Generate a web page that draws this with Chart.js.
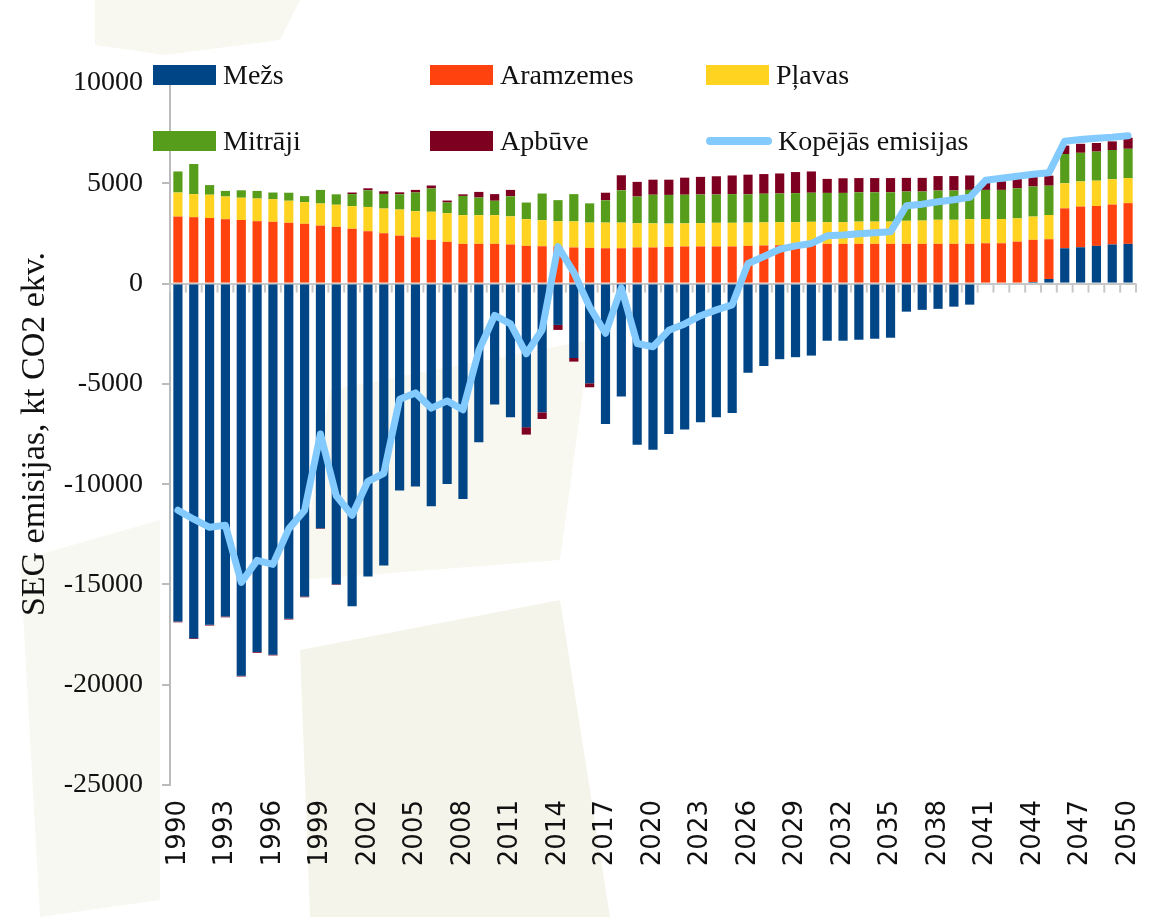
<!DOCTYPE html>
<html>
<head>
<meta charset="utf-8">
<script src="https://cdn.jsdelivr.net/npm/chart.js@4.4.0/dist/chart.umd.min.js"></script>
<style>
body{margin:0;background:#fff;}
#wrap{position:relative;width:1154px;height:917px;}
#legend{position:absolute;left:0;top:0;font-family:'Liberation Serif',serif;font-size:28px;color:#111;}
.item{position:absolute;display:flex;align-items:center;white-space:nowrap;height:20px;}
.swatch{width:63px;height:20px;margin-right:7px;}
.linha{width:66px;height:8px;border-radius:4px;margin-right:6px;}
</style>
</head>
<body>
<div id="wrap">
	<canvas id="grafico" width="1154" height="917"></canvas>
	<div id="legend"></div>
</div>
<script>
const anos = ['1990','1991','1992','1993','1994','1995','1996','1997','1998','1999',
	'2000','2001','2002','2003','2004','2005','2006','2007','2008','2009',
	'2010','2011','2012','2013','2014','2015','2016','2017','2018','2019',
	'2020','2021','2022','2023','2024','2025','2026','2027','2028','2029',
	'2030','2031','2032','2033','2034','2035','2036','2037','2038','2039',
	'2040','2041','2042','2043','2044','2045','2046','2047','2048','2049','2050'];

const mezs = [-16850,-17680,-17010,-16600,-19550,-18370,-18500,-16710,-15600,-12200,
	-14990,-16090,-14610,-14060,-10320,-10120,-11100,-9990,-10740,-7910,
	-6030,-6670,-7160,-6420,-2060,-3710,-4970,-7000,-5630,-8040,
	-8290,-7500,-7280,-6910,-6670,-6450,-4450,-4110,-3770,-3670,
	-3590,-2850,-2850,-2800,-2750,-2700,-1400,-1310,-1260,-1150,
	-1050,-50,0,0,80,230,1760,1810,1880,1950,1980];

const aramzemes = [3340,3310,3270,3210,3170,3110,3080,3030,2980,2890,
	2830,2730,2610,2510,2390,2310,2180,2080,1980,1980,
	1980,1950,1880,1860,1850,1800,1780,1760,1760,1800,
	1800,1830,1850,1850,1850,1850,1880,1900,1910,1930,
	1950,1980,1980,1980,1980,1980,1980,1980,1980,1980,
	1980,2010,2010,2090,2100,1980,1990,2030,1990,1990,2030];

const plavas = [1200,1150,1160,1130,1110,1130,1130,1100,1080,1100,
	1100,1130,1210,1230,1300,1300,1400,1430,1430,1430,
	1430,1400,1330,1300,1260,1300,1260,1280,1280,1210,
	1200,1160,1150,1160,1180,1180,1160,1150,1150,1130,
	1130,1080,1080,1110,1110,1110,1150,1160,1200,1200,
	1230,1210,1210,1160,1160,1210,1250,1250,1260,1260,1250];

const mitraji = [1050,1500,480,280,370,380,330,400,300,680,
	520,600,830,730,760,930,1160,530,960,880,
	720,1000,830,1330,1050,1360,960,1110,1610,1330,
	1430,1430,1430,1430,1410,1430,1410,1430,1430,1450,
	1450,1460,1460,1460,1460,1460,1460,1450,1460,1460,
	1460,1450,1450,1500,1500,1460,1460,1430,1450,1460,1460];

const apbuve = [-40,-40,-40,-40,-40,-40,-40,-40,-40,-30,
	-30,80,100,130,100,130,150,100,80,280,
	330,320,-370,-330,-250,-180,-200,380,750,730,
	750,760,850,880,910,930,980,980,1000,1050,
	1060,700,730,710,710,710,680,680,720,720,
	720,430,430,470,470,500,420,450,430,430,550];

const kopejas = [-11300,-11750,-12150,-12050,-14900,-13800,-14000,-12230,-11300,-7500,
	-10580,-11550,-9860,-9460,-5770,-5450,-6210,-5850,-6290,-3340,
	-1590,-2010,-3500,-2300,1840,560,-1170,-2480,-210,-2990,
	-3150,-2330,-2010,-1600,-1310,-1060,1000,1350,1710,1880,
	2000,2380,2420,2480,2530,2580,3880,3960,4080,4180,
	4300,5150,5250,5350,5450,5520,7100,7180,7250,7300,7370];

const nomes = ['Mežs','Aramzemes','Pļavas','Mitrāji','Apbūve','Kopējās emisijas'];
const cores = ['#004586','#ff420e','#ffd320','#579d1c','#7e0021','#83caff'];

// faint background shapes like the original slide
const fundo = {
	id: 'fundo',
	beforeDraw(chart) {
		const c = chart.ctx;
		const formas = [
			['#f8f8f1', [[95,0],[300,0],[280,40],[165,55],[95,45]]],
			['#f8f8f1', [[330,390],[590,340],[560,560],[300,580]]],
			['#f5f4ea', [[300,650],[560,600],[610,917],[310,917]]],
			['#f8f8f2', [[20,560],[160,520],[160,900],[40,917]]]
		];
		c.save();
		formas.forEach(f => {
			c.fillStyle = f[0];
			c.beginPath();
			f[1].forEach((p, i) => i ? c.lineTo(p[0], p[1]) : c.moveTo(p[0], p[1]));
			c.closePath();
			c.fill();
		});
		c.restore();
	}
};

// little tick marks hanging from the zero line between the bars
const marcasZero = {
	id: 'marcasZero',
	beforeDatasetsDraw(chart) {
		const x = chart.scales.x, y = chart.scales.y;
		const y0 = y.getPixelForValue(0);
		const passo = x.getPixelForValue(1) - x.getPixelForValue(0);
		const c = chart.ctx;
		c.save();
		c.strokeStyle = '#c8c8c8';
		c.lineWidth = 2;
		for (let i = 0; i <= anos.length; i++) {
			const px = x.getPixelForValue(i) - passo / 2;
			c.beginPath();
			c.moveTo(px, y0);
			c.lineTo(px, y0 + 9);
			c.stroke();
		}
		c.restore();
	}
};

function barra(i, dados) {
	return {
		type: 'bar',
		label: nomes[i],
		data: dados,
		backgroundColor: cores[i],
		stack: 'uso',
		order: 1,
		categoryPercentage: 1,
		barPercentage: 0.58
	};
}

const ctx = document.getElementById('grafico').getContext('2d');
let myChart = new Chart(ctx, {
	data: {
		labels: anos,
		datasets: [
			barra(0, mezs),
			barra(1, aramzemes),
			barra(2, plavas),
			barra(3, mitraji),
			barra(4, apbuve),
			{
				type: 'line',
				label: nomes[5],
				data: kopejas,
				borderColor: cores[5],
				borderWidth: 7,
				tension: 0,
				pointRadius: 0,
				borderJoinStyle: 'round',
				borderCapStyle: 'round',
				stack: 'linha',
				order: 0
			}
		]
	},
	options: {
		responsive: false,
		animation: false,
		layout: { padding: { left: 11, top: 83, right: 18, bottom: 0 } },
		plugins: { legend: { display: false }, tooltip: { enabled: false } },
		scales: {
			x: {
				stacked: true,
				grid: { display: false, drawTicks: false },
				border: { display: false },
				ticks: {
					autoSkip: false,
					minRotation: 90,
					maxRotation: 90,
					padding: 15,
					color: '#111',
					font: { family: 'DejaVu Sans', size: 26 },
					callback: function (v, i) { return i % 3 === 0 ? anos[i] : ''; }
				},
				afterFit(scale) {
					scale.height = 132;
					scale.paddingLeft = 0;
					scale.paddingRight = 0;
				}
			},
			y: {
				stacked: true,
				min: -25000,
				max: 10000,
				grid: {
					drawOnChartArea: true,
					color: c => c.tick && c.tick.value === 0 ? '#c8c8c8' : 'rgba(0,0,0,0)',
					lineWidth: 2,
					tickColor: '#bbbbbb',
					tickLength: 8
				},
				border: { display: true, color: '#bbbbbb', width: 2 },
				ticks: {
					stepSize: 5000,
					padding: 19,
					color: '#111',
					font: { family: 'Liberation Serif', size: 28 },
					callback: v => String(v)
				},
				title: {
					display: true,
					text: 'SEG emisijas, kt CO2 ekv.',
					color: '#111',
					font: { family: 'Liberation Serif', size: 34 }
				},
				afterFit(scale) { scale.width = 159; }
			}
		}
	},
	plugins: [fundo, marcasZero]
});

// legend: 3 columns, 2 rows, over the top of the plot
const legenda = document.getElementById('legend');
const colunas = [153, 430, 706];
const linhas = [65, 131];
nomes.forEach((n, i) => {
	const item = document.createElement('div');
	item.className = 'item';
	item.style.left = colunas[i % 3] + 'px';
	item.style.top = linhas[Math.floor(i / 3)] + 'px';
	const sw = document.createElement('span');
	sw.className = i === 5 ? 'linha' : 'swatch';
	sw.style.background = cores[i];
	const tx = document.createElement('span');
	tx.textContent = n;
	item.appendChild(sw);
	item.appendChild(tx);
	legenda.appendChild(item);
});
</script>
</body>
</html>
